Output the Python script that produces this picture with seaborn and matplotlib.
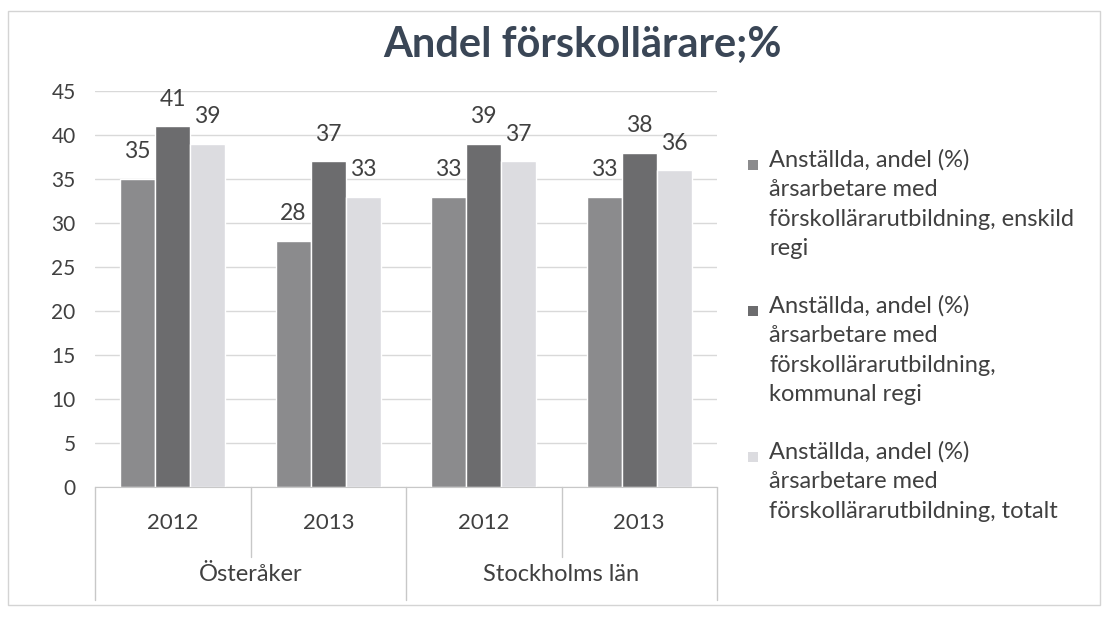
import numpy as np
import pandas as pd
import matplotlib.pyplot as plt
import matplotlib.patches as mpatches
import seaborn as sns

regions = ["Österåker", "Österåker", "Stockholms län", "Stockholms län"]
years = ["2012", "2013", "2012", "2013"]
enskild = [35, 28, 33, 33]
kommunal = [41, 37, 39, 38]
totalt = [39, 33, 37, 36]
series_names = [
    "Anställda, andel (%)\nårsarbetare med\nförskollärarutbildning, enskild\nregi",
    "Anställda, andel (%)\nårsarbetare med\nförskollärarutbildning,\nkommunal regi",
    "Anställda, andel (%)\nårsarbetare med\nförskollärarutbildning, totalt",
]
colors = ["#8b8b8d", "#6c6c6e", "#dcdce0"]

slots = [f"{r} {y}" for r, y in zip(regions, years)]
rows = []
for name, vals in zip(series_names, [enskild, kommunal, totalt]):
    for s, v in zip(slots, vals):
        rows.append({"slot": s, "value": v, "series": name})
df = pd.DataFrame(rows)

sns.set_style("white")
plt.rcParams["font.family"] = ["Lato", "DejaVu Sans"]
text_color = "#404040"

fig = plt.figure(figsize=(11.07, 6.21), dpi=100)
ax = fig.add_axes([95 / 1107, 134 / 621, 622 / 1107, 396 / 621])

sns.barplot(data=df, x="slot", y="value", hue="series", order=slots,
            hue_order=series_names, palette=colors, saturation=1,
            width=0.675, ax=ax, legend=False)

for c in ax.containers:
    ax.bar_label(c, fmt="%d", padding=12, fontsize=16.5, color=text_color)

ax.set_ylim(0, 45)
ax.set_yticks(range(0, 46, 5))
ax.set_xlim(-0.5, 3.5)
ax.yaxis.grid(True, color="#d9d9d9", linewidth=1)
ax.set_axisbelow(True)
ax.set_xlabel("")
ax.set_ylabel("")
ax.set_xticks(range(4))
ax.set_xticklabels(years)
ax.tick_params(axis="y", length=0, pad=14, labelsize=15, labelcolor=text_color)
ax.tick_params(axis="x", length=0, pad=19, labelsize=16, labelcolor=text_color)
for side in ["top", "right", "left"]:
    ax.spines[side].set_visible(False)
ax.spines["bottom"].set_color("#c8c8c8")

# category separators and group labels
tr = ax.get_xaxis_transform()
for xpos in [0.5, 2.5]:
    ax.plot([xpos, xpos], [0, -0.177], transform=tr, color="#c8c8c8",
            linewidth=1, clip_on=False)
for xpos in [-0.5, 1.5, 3.5]:
    ax.plot([xpos, xpos], [0, -0.285], transform=tr, color="#c8c8c8",
            linewidth=1, clip_on=False)
ax.text(0.5, -0.222, regions[0], transform=tr, ha="center", va="center",
        fontsize=17, color=text_color)
ax.text(2.5, -0.222, regions[2], transform=tr, ha="center", va="center",
        fontsize=17, color=text_color)

# legend: marker aligned with first text line, like the original
legend_tops = [165, 311, 457]
for name, col, ytop in zip(series_names, colors, legend_tops):
    fig.patches.append(mpatches.Rectangle((748 / 1107, 1 - (ytop + 5) / 621),
                                          10 / 1107, 10 / 621,
                                          transform=fig.transFigure,
                                          facecolor=col, edgecolor="none"))
    fig.text(769 / 1107, 1 - (ytop - 16) / 621, name, ha="left", va="top",
             fontsize=17, color=text_color, linespacing=1.5)

fig.text(582 / 1107, 1 - 45 / 621, "Andel förskollärare;%", ha="center",
         va="center", fontsize=30, fontweight="bold", color="#3a4656")

fig.patches.append(mpatches.Rectangle((8 / 1107, 16 / 621), 1092 / 1107, 594 / 621,
                                      transform=fig.transFigure, fill=False,
                                      edgecolor="#d4d4d4", linewidth=1))

fig.savefig("out.png", dpi=100)
